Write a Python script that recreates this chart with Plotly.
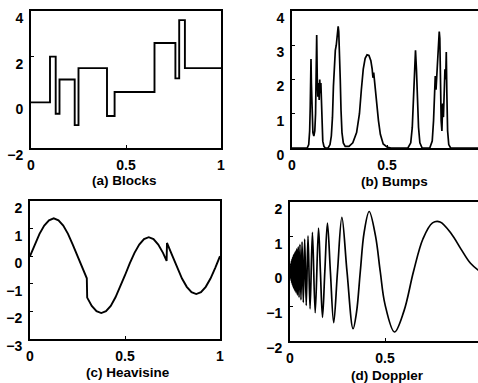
import plotly.graph_objects as go

W, H = 478, 383

# ---------------- data ----------------
# (a) Blocks: step breakpoints and levels
blocks_t = [0.0, 0.10, 0.13, 0.15, 0.23, 0.25, 0.40, 0.44, 0.65, 0.76, 0.78, 0.81, 1.0]
blocks_y = [0.0, 2.0, -0.5, 1.0, -1.0, 1.5, -0.6, 0.45, 2.6, 1.05, 3.6, 1.5, 1.5]

# (b) Bumps
bumps_t = [0.0, 0.080, 0.088, 0.093, 0.096, 0.098, 0.100, 0.102, 0.105, 0.110, 0.115, 0.120,
           0.124, 0.127, 0.130, 0.133, 0.136, 0.140, 0.143, 0.146, 0.149, 0.152, 0.155, 0.158,
           0.162, 0.168, 0.175, 0.190, 0.200, 0.207, 0.213, 0.218, 0.223, 0.228, 0.233, 0.238,
           0.243, 0.246, 0.250, 0.254, 0.258, 0.263, 0.270, 0.280, 0.300, 0.320, 0.340, 0.355,
           0.365, 0.375, 0.385, 0.395, 0.405, 0.415, 0.422, 0.426, 0.430, 0.435, 0.445, 0.455,
           0.465, 0.480, 0.500, 0.520, 0.610, 0.625, 0.633, 0.640, 0.645, 0.650, 0.655, 0.660,
           0.666, 0.673, 0.685, 0.725, 0.738, 0.745, 0.750, 0.754, 0.758, 0.762, 0.767, 0.771,
           0.775, 0.778, 0.781, 0.785, 0.789, 0.793, 0.797, 0.801, 0.805, 0.809, 0.812, 0.815,
           0.819, 0.825, 0.835, 1.0]
bumps_y = [0.0, 0.0, 0.1, 0.5, 1.2, 2.0, 2.6, 1.9, 0.9, 0.45, 0.35, 0.5,
           1.0, 1.8, 3.3, 2.0, 1.5, 1.9, 1.4, 2.0, 1.6, 1.9, 1.3, 0.6,
           0.2, 0.05, 0.0, 0.0, 0.1, 0.35, 0.9, 1.8, 2.6, 2.85, 3.0, 3.2,
           3.55, 3.4, 2.9, 2.0, 1.1, 0.45, 0.15, 0.05, 0.05, 0.15, 0.45, 1.0,
           1.7, 2.3, 2.62, 2.72, 2.7, 2.55, 2.3, 2.05, 2.2, 1.9, 1.35, 0.8,
           0.4, 0.12, 0.03, 0.0, 0.0, 0.15, 0.6, 1.5, 2.3, 2.85, 2.3, 1.4,
           0.6, 0.15, 0.0, 0.0, 0.2, 0.8, 1.8, 2.1, 1.7, 2.2, 2.6, 3.0,
           3.4, 3.2, 1.8, 0.8, 0.5, 1.3, 0.9, 1.8, 2.3, 2.0, 2.8, 1.6,
           0.5, 0.1, 0.0, 0.0]

# (c) Heavisine
heavi_t = [0.0, 0.025, 0.05, 0.075, 0.1, 0.125, 0.15, 0.175, 0.2, 0.225, 0.25, 0.275, 0.299,
           0.301, 0.325, 0.35, 0.375, 0.4, 0.425, 0.45, 0.475, 0.5, 0.525, 0.55, 0.575, 0.6,
           0.625, 0.65, 0.675, 0.7, 0.719, 0.721, 0.75, 0.775, 0.8, 0.825, 0.85, 0.875, 0.9,
           0.925, 0.95, 0.975, 1.0]
heavi_y = [0.0, 0.42, 0.81, 1.11, 1.30, 1.37, 1.30, 1.11, 0.81, 0.42, 0.0, -0.42, -0.80,
           -1.50, -1.80, -1.99, -2.06, -1.99, -1.80, -1.49, -1.11, -0.69, -0.26, 0.12, 0.42, 0.62,
           0.69, 0.62, 0.42, 0.12, -0.17, 0.48, 0.0, -0.42, -0.81, -1.11, -1.30, -1.37, -1.30,
           -1.11, -0.81, -0.42, 0.0]

# (d) Doppler
doppler_t = [0.0, 0.000602, 0.001852, 0.003165, 0.004545, 0.006, 0.007534, 0.009155, 0.01087,
             0.012687, 0.014615, 0.016667, 0.018852, 0.021186, 0.023684, 0.026364, 0.029245,
             0.032353, 0.035714, 0.039362, 0.043333, 0.047674, 0.052439, 0.057692, 0.063514,
             0.07, 0.077273, 0.085484, 0.094828, 0.105556, 0.118, 0.132609, 0.15, 0.16,
             0.171053, 0.183333, 0.197059, 0.2125, 0.23, 0.25, 0.273077, 0.3, 0.331818, 0.35,
             0.37, 0.39, 0.416667, 0.45, 0.475, 0.5, 0.55, 0.6, 0.65, 0.7, 0.75, 0.79, 0.85,
             0.9, 0.95, 1.0]
doppler_y = [0.0, -0.086, 0.150, -0.197, 0.235, -0.270, 0.303, -0.333, 0.363,
             -0.392, 0.420, -0.448, 0.476, -0.504, 0.532, -0.561, 0.590,
             -0.619, 0.650, -0.681, 0.713, -0.746, 0.780, -0.816, 0.854,
             -0.893, 0.935, -0.979, 1.025, -1.075, 1.129, -1.187, 1.250, 0.0,
             -1.318, 0.0, 1.392, 0.0, -1.473, 0.0, 1.559, 0.0, -1.648, -1.178,
             0.0, 1.118, 1.726, 1.024, 0.0, -0.947, -1.741, -1.133, 0.0, 0.943, 1.40, 1.426, 1.08,
             0.645, 0.236, 0.0]

titles = ["(a) Blocks", "(b) Bumps", "(c) Heavisine", "(d) Doppler"]
yticks_a = [-2, 0, 2, 4]
yticks_b = [0, 1, 2, 3, 4]
yticks_c = [-3, -2, -1, 0, 1, 2]
yticks_d = [-2, -1, 0, 1, 2]
xticks = [0, 0.5, 1]
xticktext = ["0", "0.5", "1"]

# ---------------- layout geometry (pixels) ----------------
def xd(l, r):
    return [l / W, r / W]

def yd(t, b):
    return [1 - b / H, 1 - t / H]

FONT = "Liberation Sans, Arial, sans-serif"
tickfont = dict(family=FONT, size=14, color="black", weight="bold")

fig = go.Figure()
fig.add_trace(go.Scatter(x=blocks_t, y=blocks_y, mode="lines", line=dict(color="black", width=1.9, shape="hv"),
                         xaxis="x", yaxis="y", showlegend=False))
fig.add_trace(go.Scatter(x=bumps_t, y=bumps_y, mode="lines", line=dict(color="black", width=1.7),
                         xaxis="x2", yaxis="y2", showlegend=False))
fig.add_trace(go.Scatter(x=heavi_t, y=heavi_y, mode="lines", line=dict(color="black", width=1.9),
                         xaxis="x3", yaxis="y3", showlegend=False))
fig.add_trace(go.Scatter(x=doppler_t, y=doppler_y, mode="lines",
                         line=dict(color="black", width=1.7, shape="spline", smoothing=1),
                         xaxis="x4", yaxis="y4", showlegend=False))

def xaxis(dom, anchor, rmax):
    return dict(domain=dom, anchor=anchor, range=[0, rmax], tickvals=xticks, ticktext=xticktext,
                showline=True, linecolor="black", linewidth=2, mirror=True, automargin=False,
                ticks="inside", ticklen=3, tickcolor="black", showgrid=False, zeroline=False,
                tickfont=tickfont, ticklabelstandoff=3, ticklabeloverflow="allow", fixedrange=True)

def yaxis(dom, anchor, rng, tv, mirror):
    return dict(domain=dom, anchor=anchor, range=rng, tickvals=tv,
                showline=True, linecolor="black", linewidth=2, mirror=mirror, automargin=False,
                ticks="inside", ticklen=3, tickcolor="black", showgrid=False, zeroline=False,
                tickfont=tickfont, ticklabelshift=7, ticklabelstandoff=3,
                ticklabeloverflow="allow", fixedrange=True)

fig.update_layout(
    width=W, height=H, autosize=False,
    margin=dict(l=0, r=0, t=0, b=0, pad=0),
    paper_bgcolor="white", plot_bgcolor="white",
    xaxis=xaxis(xd(31, 221), "y", 1.0),
    yaxis=yaxis(yd(11, 148), "x", [-2, 4], yticks_a, True),
    xaxis2=xaxis(xd(292, 478), "y2", 186 / 190),
    yaxis2=yaxis(yd(11, 148), "x2", [0, 4], yticks_b, False),
    xaxis3=xaxis(xd(30, 220), "y3", 1.0),
    yaxis3=yaxis(yd(201, 339), "x3", [-3, 2], yticks_c, True),
    xaxis4=xaxis(xd(290, 478), "y4", 188 / 190),
    yaxis4=yaxis(yd(202, 341), "x4", [-2, 2], yticks_d, False),
)

title_pos = [(124.5, 180), (394.5, 181), (128, 372), (387, 375)]
for txt, (px, py) in zip(titles, title_pos):
    fig.add_annotation(text=txt, x=px / W, y=1 - py / H, xref="paper", yref="paper",
                       xanchor="center", yanchor="middle", showarrow=False,
                       font=dict(family=FONT, size=13.5, color="black", weight="bold"))

fig.write_html("out.html", config={"displayModeBar": False},
               post_script="document.body.style.margin='0';document.body.style.overflow='hidden';")
